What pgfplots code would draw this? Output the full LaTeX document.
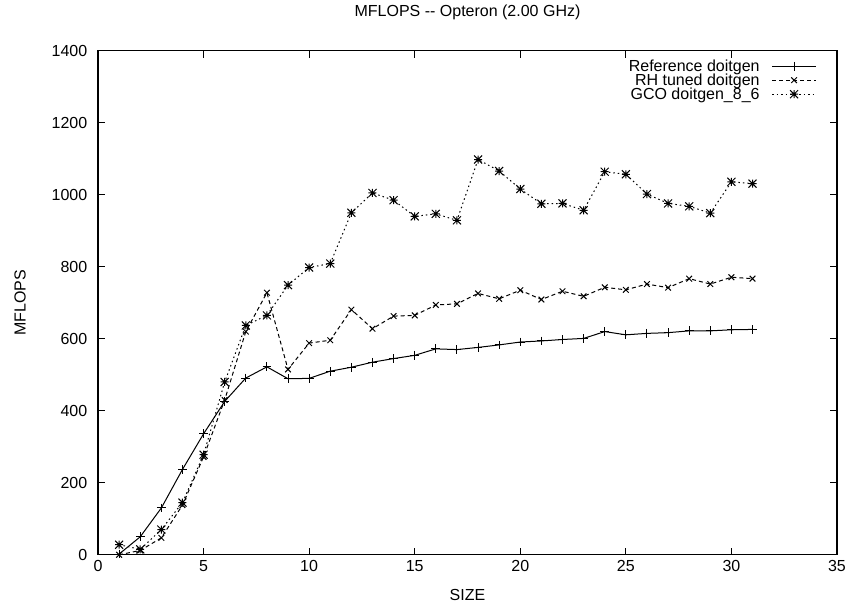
\documentclass[border=0pt]{standalone}
\usepackage{fontspec}
\setmainfont{Liberation Sans}
\usepackage{pgfplots}
\pgfplotsset{compat=1.18}
\usetikzlibrary{calc}

% gnuplot-style asterisk: a plus laid over a cross
\pgfdeclareplotmark{gpstar}{%
  \pgfpathmoveto{\pgfqpoint{-\pgfplotmarksize}{0pt}}%
  \pgfpathlineto{\pgfqpoint{\pgfplotmarksize}{0pt}}%
  \pgfpathmoveto{\pgfqpoint{0pt}{-\pgfplotmarksize}}%
  \pgfpathlineto{\pgfqpoint{0pt}{\pgfplotmarksize}}%
  \pgfpathmoveto{\pgfqpoint{-\pgfplotmarksize}{-\pgfplotmarksize}}%
  \pgfpathlineto{\pgfqpoint{\pgfplotmarksize}{\pgfplotmarksize}}%
  \pgfpathmoveto{\pgfqpoint{-\pgfplotmarksize}{\pgfplotmarksize}}%
  \pgfpathlineto{\pgfqpoint{\pgfplotmarksize}{-\pgfplotmarksize}}%
  \pgfusepathqstroke}

\pgfplotstableread{
size ref  rh   gco
1    2    0    28
2    50   12   15
3    130  47   70
4    237  138  145
5    336  272  278
6    426  430  480
7    491  620  637
8    522  728  665
9    489  515  749
10   490  588  798
11   510  596  809
12   521  681  950
13   535  628  1005
14   545  663  985
15   554  665  940
16   572  694  947
17   570  697  929
18   576  726  1098
19   583  711  1066
20   591  735  1016
21   594  709  975
22   598  732  976
23   601  718  957
24   620  743  1064
25   611  736  1057
26   615  752  1002
27   617  742  976
28   622  767  968
29   622  752  949
30   625  771  1036
31   626  767  1031
}\mflops

\begin{document}
\fontsize{8}{9.6}\selectfont
\begin{tikzpicture}
\begin{axis}[
  name=ax,
  scale only axis,
  width=369.5pt, height=252pt,
  xmin=0, xmax=35, ymin=0, ymax=1400,
  xtick={0,5,...,35}, ytick={0,200,...,1400},
  tick align=inside, major tick length=3.5pt,
  axis line style={line width=0.6pt},
  every tick/.style={black, line width=0.6pt},
  tick label style={font=\fontsize{8}{9.6}\selectfont},
  /pgf/number format/assume math mode=true,
  /pgf/number format/1000 sep={},
  yticklabel style={xshift=-2.5pt},
  title={MFLOPS -{}- Opteron (2.00 GHz)},
  title style={at={(axis description cs:0.5,1.0516)}, anchor=center, font=\fontsize{8}{9.6}\selectfont},
  xlabel={SIZE},
  xlabel style={at={(axis description cs:0.5,-0.079)}, anchor=center, font=\fontsize{8}{9.6}\selectfont},
  ylabel={MFLOPS},
  ylabel style={at={(axis description cs:-0.1055,0.5)}, anchor=center, font=\fontsize{8}{9.6}\selectfont},
  legend plot pos=right,
  legend cell align=right,
  legend style={draw=none, fill=none, at={(axis description cs:1,1)}, anchor=north east,
    xshift=-10pt, yshift=-4pt,
    font=\fontsize{8}{9.6}\selectfont, row sep=0pt, column sep=6pt, inner sep=0pt,
    nodes={inner sep=0pt, text height=6pt, text depth=1pt}},
  legend image code/.code={%
    \draw[mark repeat=2, mark phase=2, #1] plot coordinates {(0pt,0pt) (11pt,0pt) (22pt,0pt)};},
]
\addplot[black, line width=0.5pt, mark=+, mark size=2.2pt, mark options={solid}]
  table[x=size, y=ref] {\mflops};
\addplot[black, line width=0.5pt, dash pattern=on 2pt off 1.5pt, mark=x, mark size=2pt, mark options={solid}]
  table[x=size, y=rh] {\mflops};
\addplot[black, line width=0.5pt, dash pattern=on 0.75pt off 1.5pt, mark=gpstar, mark size=2pt, mark options={solid}]
  table[x=size, y=gco] {\mflops};
\legend{Reference doitgen, RH tuned doitgen, GCO doitgen\_8\_6}
\end{axis}
\path[use as bounding box] ($(ax.south west)+(-49pt,-26pt)$) rectangle ($(ax.north east)+(8pt,21.5pt)$);
\end{tikzpicture}
\end{document}
